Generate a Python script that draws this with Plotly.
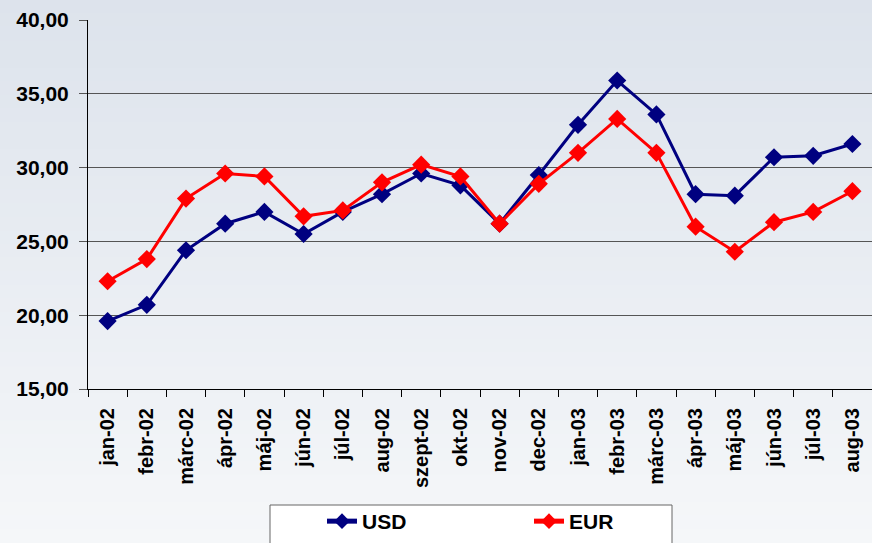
import plotly.graph_objects as go

months = ["jan-02", "febr-02", "márc-02", "ápr-02", "máj-02", "jún-02", "júl-02",
          "aug-02", "szept-02", "okt-02", "nov-02", "dec-02", "jan-03", "febr-03",
          "márc-03", "ápr-03", "máj-03", "jún-03", "júl-03", "aug-03"]
usd = [19.6, 20.7, 24.4, 26.2, 27.0, 25.5, 27.0, 28.2, 29.6, 28.8, 26.2, 29.5,
       32.9, 35.9, 33.6, 28.2, 28.1, 30.7, 30.8, 31.6]
eur = [22.3, 23.8, 27.9, 29.6, 29.4, 26.7, 27.1, 29.0, 30.2, 29.4, 26.2, 28.9,
       31.0, 33.3, 31.0, 26.0, 24.3, 26.3, 27.0, 28.4]
yticks = [15, 20, 25, 30, 35, 40]
ytext = ["15,00", "20,00", "25,00", "30,00", "35,00", "40,00"]

FONT = "Liberation Sans, Arial, sans-serif"

W, H = 872, 543
L, R, T, B = 88, 0, 20, 154
pw, ph = W - L - R, H - T - B

fig = go.Figure()
fig.add_trace(go.Scatter(x=months, y=usd, name="USD", mode="lines+markers",
                         line=dict(color="#000080", width=3),
                         marker=dict(symbol="diamond", size=14, color="#000080")))
fig.add_trace(go.Scatter(x=months, y=eur, name="EUR", mode="lines+markers",
                         line=dict(color="#FF0000", width=3),
                         marker=dict(symbol="diamond", size=14, color="#FF0000")))

# background gradient
shapes = []
n = 40
x0p, x1p = -L / pw, 1 + R / pw
ybot, ytop = -B / ph, 1 + T / ph
top_c = (0xDD, 0xE3, 0xEC)
bot_c = (0xF5, 0xF7, 0xF9)
for i in range(n):
    f = i / (n - 1)
    c = tuple(round(top_c[k] + (bot_c[k] - top_c[k]) * f) for k in range(3))
    y1 = ytop - (ytop - ybot) * i / n
    y0 = ytop - (ytop - ybot) * (i + 1) / n
    shapes.append(dict(type="rect", xref="paper", yref="paper", x0=x0p, x1=x1p,
                       y0=y0 - 0.001, y1=y1 + 0.001, layer="below",
                       fillcolor="rgb(%d,%d,%d)" % c, line=dict(width=0)))
# legend box (extends past the bottom edge like the reference)
shapes.append(dict(type="rect", xref="paper", yref="paper",
                   x0=(270 - L) / pw, x1=(672 - L) / pw,
                   y0=(T + ph - 560) / ph, y1=(T + ph - 505) / ph, layer="below",
                   fillcolor="#FFFFFF", line=dict(color="#666666", width=1)))

fig.update_layout(
    width=W, height=H,
    margin=dict(l=L, r=R, t=T, b=B),
    paper_bgcolor="#EEF1F5",
    plot_bgcolor="rgba(0,0,0,0)",
    shapes=shapes,
    font=dict(family=FONT, size=20, color="#000000"),
    showlegend=True,
    legend=dict(orientation="h", x=(322 - L) / pw, xanchor="left",
                y=(T + ph - 542) / ph, yanchor="bottom",
                bgcolor="rgba(0,0,0,0)", borderwidth=0,
                font=dict(family=FONT, size=21, color="#000000", weight="bold"),
                entrywidth=162, entrywidthmode="pixels",
                itemsizing="constant"),
    xaxis=dict(type="category", tickangle=-90, showgrid=False, automargin=False,
               showline=True, linecolor="#000000", linewidth=1,
               ticks="outside", tickson="boundaries", ticklen=7, tickcolor="#000000",
               tickfont=dict(family=FONT, size=20, weight="bold"),
               ticklabelstandoff=10,
               range=[-0.5, 19.5], fixedrange=True),
    yaxis=dict(range=[15, 40], tickvals=yticks, ticktext=ytext, automargin=False,
               showgrid=True, gridcolor="#555555", gridwidth=1,
               showline=True, linecolor="#000000", linewidth=1,
               ticks="outside", ticklen=8, tickcolor="#555555",
               tickfont=dict(family=FONT, size=21, weight="bold"),
               ticklabelstandoff=6,
               zeroline=False, fixedrange=True),
)

fig.write_html("out.html",
               post_script="document.body.style.margin='0';",
               config={"displayModeBar": False})
